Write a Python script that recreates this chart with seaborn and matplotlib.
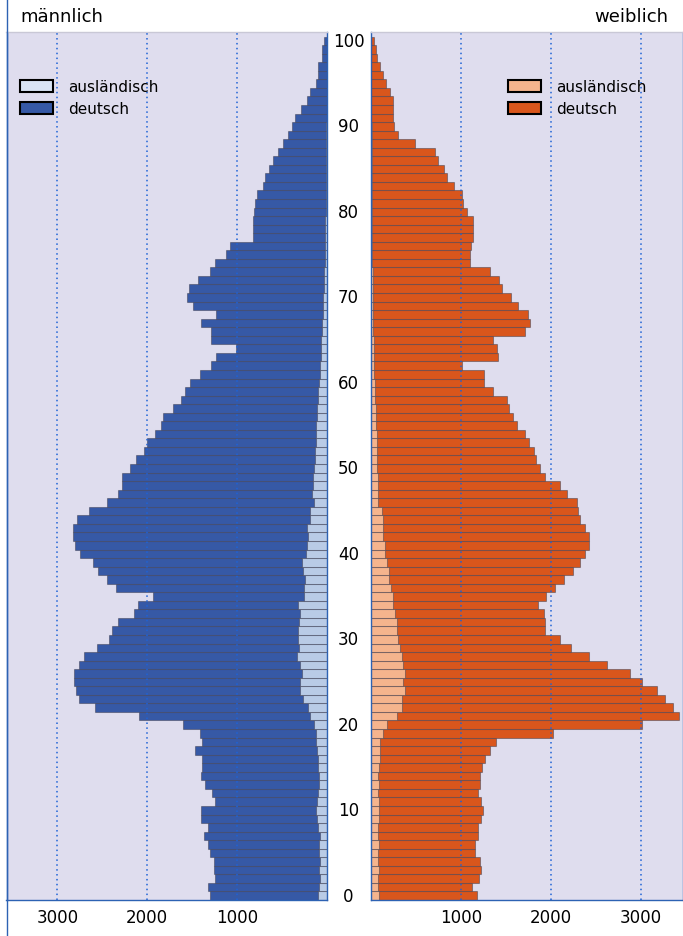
import pandas as pd
import matplotlib.pyplot as plt
import matplotlib.transforms as mtrans
from matplotlib.patches import Patch
from matplotlib.lines import Line2D
import seaborn as sns

# --- DATA (Einwohner je Altersjahr) ---
alter = list(range(101))

m_gesamt = [1300, 1320, 1250, 1260, 1260, 1300, 1320, 1370, 1330, 1400,
            1400, 1250, 1280, 1360, 1400, 1390, 1390, 1470, 1390, 1410,
            1600, 2090, 2580, 2760, 2790, 2810, 2810, 2760, 2700, 2560,
            2420, 2390, 2320, 2150, 2100, 1940, 2350, 2450, 2550, 2600,
            2750, 2800, 2830, 2830, 2780, 2650, 2450, 2320, 2280, 2280,
            2190, 2120, 2040, 2000, 1910, 1850, 1830, 1710, 1620, 1580,
            1530, 1410, 1290, 1240, 1010, 1290, 1290, 1400, 1240, 1490,
            1560, 1540, 1440, 1300, 1250, 1120, 1080, 820, 820, 820,
            815, 800, 785, 710, 690, 650, 600, 545, 490, 435,
            395, 360, 290, 220, 190, 120, 100, 100, 60, 60,
            40]
m_ausl = [100, 90, 85, 90, 80, 95, 90, 85, 100, 110,
          120, 110, 100, 90, 95, 100, 105, 110, 120, 130,
          150, 190, 210, 265, 300, 300, 280, 300, 340, 310,
          320, 320, 310, 300, 320, 260, 260, 250, 265, 280,
          240, 230, 210, 220, 190, 190, 150, 170, 160, 160,
          150, 140, 140, 130, 130, 120, 110, 110, 100, 100,
          90, 80, 80, 75, 70, 70, 60, 55, 50, 50,
          45, 40, 40, 35, 30, 30, 25, 25, 20, 20,
          15, 10, 10, 10, 10, 10, 10, 10, 10, 10,
          10, 5, 5, 5, 5, 5, 5, 5, 5, 5,
          5]
w_gesamt = [1180, 1120, 1200, 1230, 1215, 1160, 1160, 1190, 1190, 1230,
            1250, 1230, 1190, 1215, 1210, 1235, 1270, 1325, 1390, 2030,
            3010, 3420, 3360, 3270, 3180, 3010, 2880, 2630, 2420, 2230,
            2100, 1940, 1940, 1920, 1860, 1950, 2050, 2150, 2250, 2330,
            2380, 2420, 2420, 2380, 2330, 2300, 2290, 2180, 2100, 1940,
            1880, 1840, 1810, 1760, 1710, 1620, 1580, 1540, 1510, 1360,
            1260, 1260, 1010, 1410, 1400, 1360, 1710, 1770, 1750, 1640,
            1560, 1460, 1420, 1320, 1100, 1100, 1110, 1140, 1140, 1140,
            1070, 1030, 1010, 920, 850, 810, 750, 710, 490, 300,
            260, 250, 250, 250, 210, 170, 140, 100, 70, 55,
            40]
w_ausl = [90, 80, 85, 90, 85, 80, 90, 85, 80, 90,
          95, 90, 85, 90, 85, 95, 100, 100, 105, 140,
          180, 290, 350, 345, 380, 355, 380, 360, 345, 325,
          305, 290, 290, 270, 250, 250, 230, 205, 200, 180,
          160, 160, 140, 140, 140, 120, 80, 85, 80, 80,
          75, 70, 70, 65, 65, 60, 55, 55, 50, 50,
          45, 40, 40, 40, 35, 35, 30, 30, 30, 25,
          25, 25, 20, 20, 15, 15, 15, 15, 15, 15,
          15, 10, 10, 10, 10, 10, 10, 10, 10, 10,
          10, 5, 5, 5, 5, 5, 5, 5, 5, 5,
          5]

ticks = [1000, 2000, 3000]
tick_labels = ['1000', '2000', '3000']

df = pd.DataFrame({'alter': alter, 'm_gesamt': m_gesamt, 'm_ausl': m_ausl,
                   'w_gesamt': w_gesamt, 'w_ausl': w_ausl})

# --- STYLE ---
BG = '#dfddee'
BLUE_LINE = '#2d62b3'
GRID = '#1f63d6'
EDGE = (0.25, 0.25, 0.32, 0.5)
M_DARK, M_LIGHT = '#3659a6', '#b9cbe6'
W_DARK, W_LIGHT = '#d9561c', '#f5b48d'

W, H = 683, 937
fig = plt.figure(figsize=(W / 100, H / 100), dpi=100)
bottom, height = 36 / H, 867.7 / H
ax_m = fig.add_axes([6.5 / W, bottom, 320.8 / W, height])
ax_w = fig.add_axes([370.7 / W, bottom, 312.3 / W, height])

panels = [(ax_m, 'm_gesamt', 'm_ausl', M_DARK, M_LIGHT, (3564, 0)),
          (ax_w, 'w_gesamt', 'w_ausl', W_DARK, W_LIGHT, (0, 3470))]

for ax, ges, ausl, dark, light, xlim in panels:
    ax.set_facecolor(BG)
    sns.barplot(data=df, x=ges, y='alter', orient='h', native_scale=True,
                width=1, color=dark, saturation=1, errorbar=None,
                edgecolor=EDGE, linewidth=0.75, ax=ax)
    sns.barplot(data=df, x=ausl, y='alter', orient='h', native_scale=True,
                width=1, color=light, saturation=1, errorbar=None,
                edgecolor=EDGE, linewidth=0.75, ax=ax)
    ax.set_xlim(*xlim)
    ax.set_ylim(-0.5, 101)
    ax.set_xlabel('')
    ax.set_ylabel('')
    ax.set_yticks([])
    ax.set_xticks(ticks)
    ax.set_xticklabels(tick_labels, fontsize=12)
    ax.tick_params(axis='x', length=0, pad=6)
    for v in ticks:
        ax.axvline(v, color=GRID, ls=(0, (1, 2.2)), lw=1.1, zorder=5)
    for side in ['left', 'right', 'bottom']:
        ax.spines[side].set_color(BLUE_LINE)
        ax.spines[side].set_linewidth(1)
    ax.spines['top'].set_color('#c9c8d6')
    ax.spines['top'].set_linewidth(1)

# Altersbeschriftung zwischen den Panels
trans = mtrans.blended_transform_factory(fig.transFigure, ax_w.transData)
for a in range(0, 101, 10):
    ax_w.text(348.5 / W, a, str(a), transform=trans, ha='center', va='center',
              fontsize=12, clip_on=False)

# Legenden
leg_kw = dict(loc='upper left', frameon=False, fontsize=11, borderpad=0,
              borderaxespad=0, handlelength=2.15, handleheight=0.85,
              handletextpad=1.0, labelspacing=0.45)
ax_m.legend(handles=[Patch(facecolor='#d9e4f4', edgecolor='black', linewidth=1.5, label='ausländisch'),
                     Patch(facecolor=M_DARK, edgecolor='black', linewidth=1.5, label='deutsch')],
            bbox_to_anchor=(0.042, 0.946), **leg_kw)
ax_w.legend(handles=[Patch(facecolor=W_LIGHT, edgecolor='black', linewidth=1.5, label='ausländisch'),
                     Patch(facecolor=W_DARK, edgecolor='black', linewidth=1.5, label='deutsch')],
            bbox_to_anchor=(0.44, 0.946), **leg_kw)

# Kopfzeile und linke Randlinie
fig.text(20 / W, 1 - 17 / H, 'männlich', ha='left', va='center', fontsize=13)
fig.text(668 / W, 1 - 17 / H, 'weiblich', ha='right', va='center', fontsize=13)
fig.add_artist(Line2D([6.5 / W, 6.5 / W], [0, 1], transform=fig.transFigure,
                      color=BLUE_LINE, lw=1))

fig.savefig('out.png', dpi=100)
